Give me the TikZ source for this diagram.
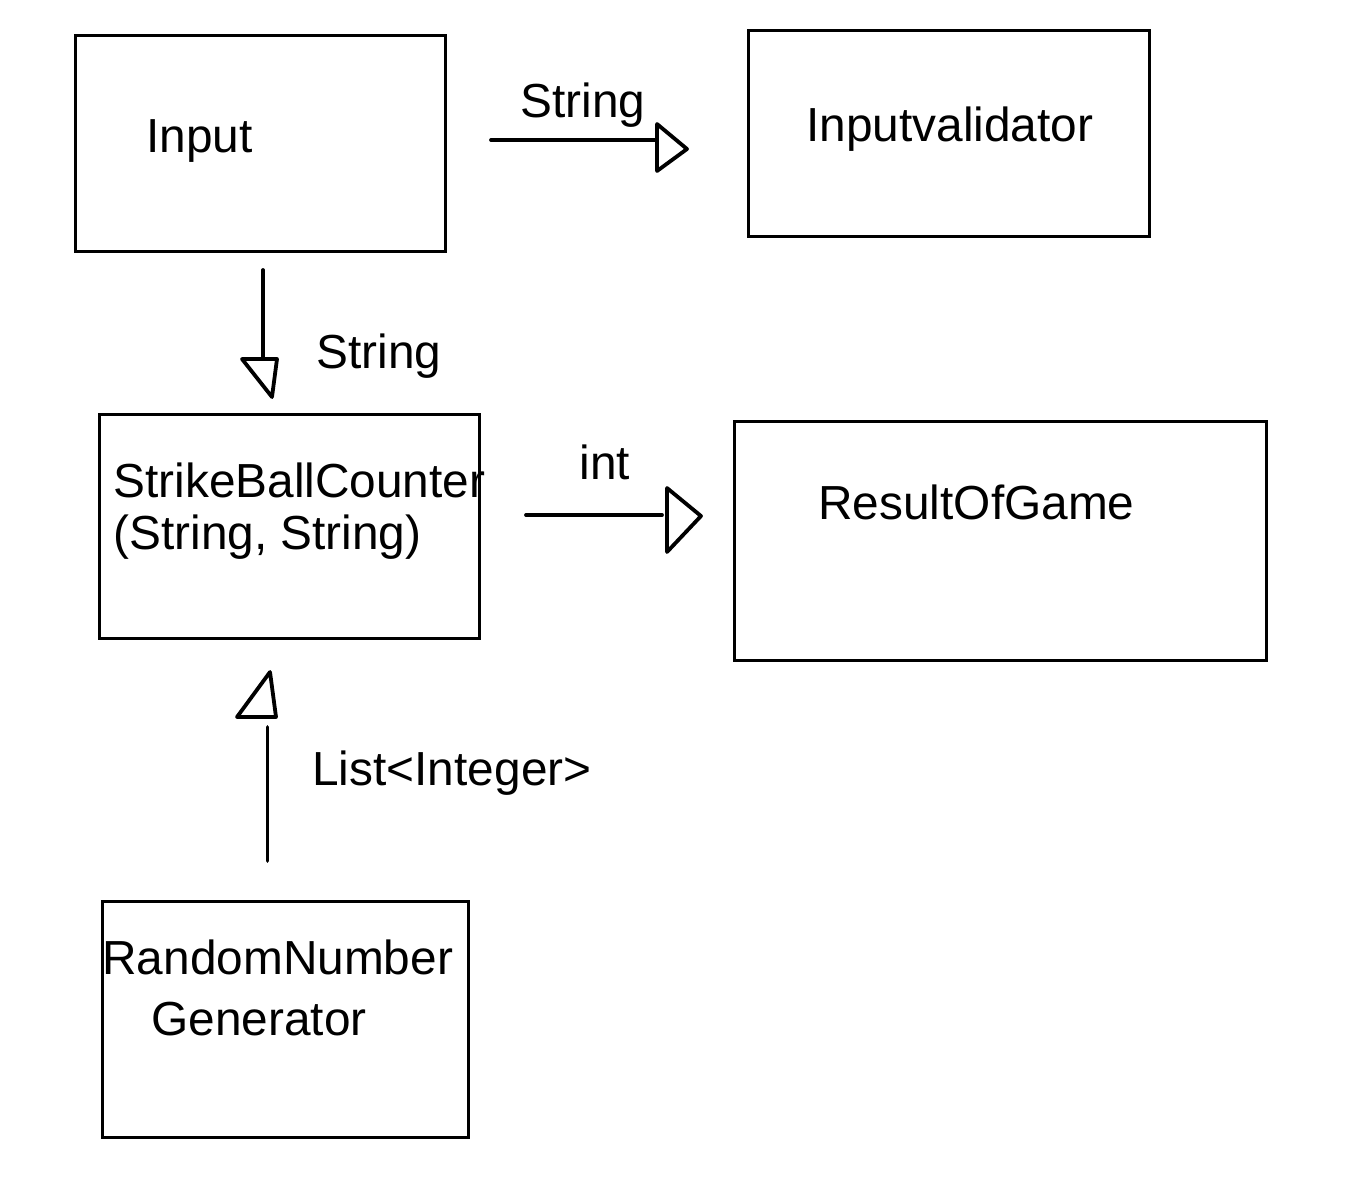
\documentclass[tikz,border=0pt]{standalone}
\usepackage{fontspec}
\setmainfont{Liberation Sans}
\tikzset{
  box/.style={draw, line width=1.5pt, inner sep=0pt},
  lbl/.style={inner sep=0pt, anchor=base west, font=\fontsize{23.9}{28}\selectfont},
  conn/.style={draw, line width=1.9pt, line cap=round},
  head/.style={draw, line width=1.9pt, line join=round, fill=white}
}
\begin{document}
\begin{tikzpicture}[x=0.5pt,y=-0.5pt]
\useasboundingbox (0,0) rectangle (1350,1191);
% boxes
\node[box, minimum width=185pt, minimum height=108pt] (input) at (260,143) {};
\node[box, minimum width=200.5pt, minimum height=103pt] (validator) at (948.5,133) {};
\node[box, minimum width=190pt, minimum height=112pt] (sbc) at (289,526) {};
\node[box, minimum width=266pt, minimum height=119.5pt] (result) at (1000,540.5) {};
\node[box, minimum width=183pt, minimum height=118pt] (rng) at (285,1019) {};
% box texts
\node[lbl] (tinput) at (146,152) {Input};
\node[lbl] (tvalidator) at (806,141) {Inputvalidator};
\node[lbl] (tsbc1) at (113,497) {StrikeBallCounter};
\node[lbl] (tsbc2) at (113,549) {(String, String)};
\node[lbl] (tresult) at (818,519) {ResultOfGame};
\node[lbl] (trng1) at (102,974) {RandomNumber};
\node[lbl] (trng2) at (151,1035) {Generator};
% connector labels
\node[lbl] (l1) at (520,117) {String};
\node[lbl] (l2) at (316,368) {String};
\node[lbl] (l3) at (579,479) {int};
\node[lbl] (l4) at (312,785) {List<Integer>};
% connector end points
\coordinate (a1) at (491,140);
\coordinate (a2) at (657,140);
\coordinate (b1) at (263,270);
\coordinate (b2) at (263,368);
\coordinate (c1) at (526,515);
\coordinate (c2) at (662,515);
\coordinate (d1) at (267.5,861);
\coordinate (d2) at (267.5,727);
% connectors
\draw[conn] (a1) -- (a2);
\draw[conn] (b1) -- (b2);
\draw[conn] (c1) -- (c2);
\draw[conn] (d1) -- (d2);
% hand-drawn open triangle heads
\draw[head] (657,124) -- (687,149) -- (657,171) -- cycle;
\draw[head] (242,359) -- (277,359) -- (272,397) -- cycle;
\draw[head] (667,488) -- (701,516) -- (667,552) -- cycle;
\draw[head] (270,672) -- (237,717) -- (276,717) -- cycle;
\end{tikzpicture}
\end{document}
